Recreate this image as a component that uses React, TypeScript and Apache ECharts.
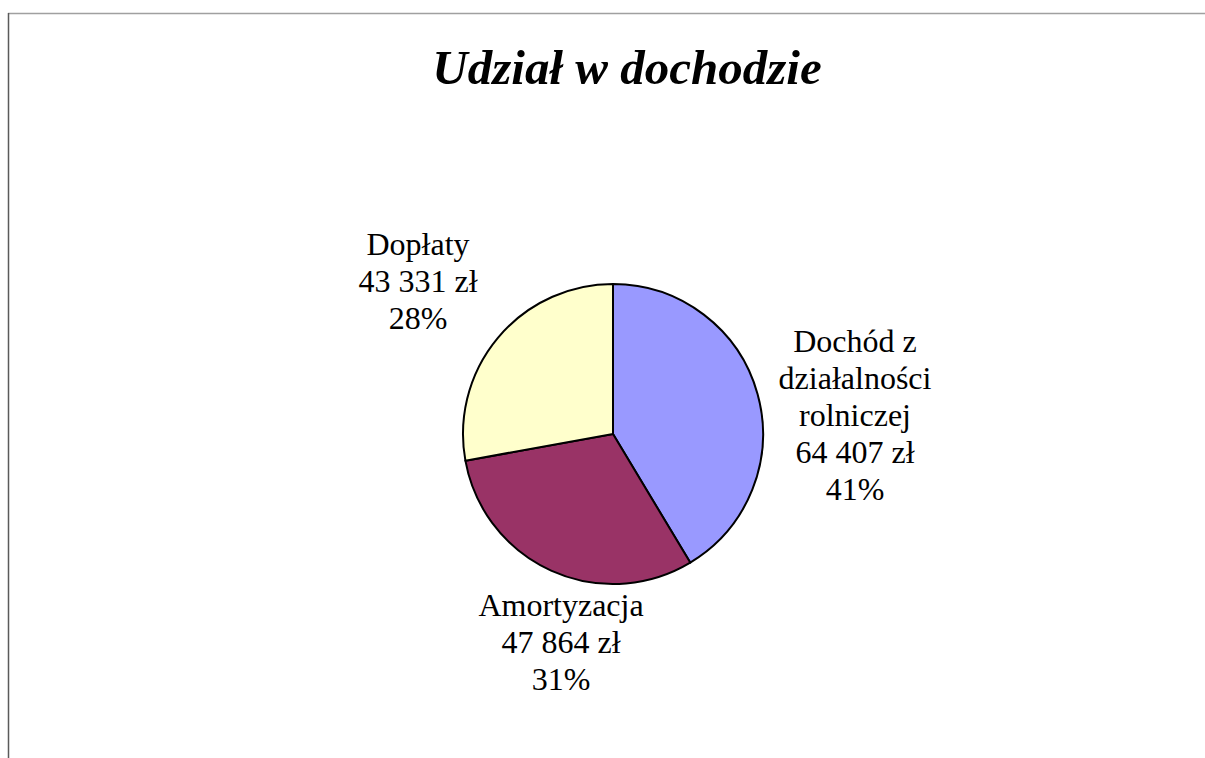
import React, { useEffect, useRef } from "react";
import * as echarts from "echarts";

const titleText = "Udział w dochodzie";
const categories = ["Dochód z\ndziałalności\nrolniczej", "Amortyzacja", "Dopłaty"];
const values = [64407, 47864, 43331];
const sliceColors = ["#9999FF", "#993366", "#FFFFCC"];

const labelCenters: [number, number][] = [
  [855, 415],
  [561, 642],
  [418, 281],
];

function fmtZl(v: number): string {
  const s = String(v);
  return s.replace(/\B(?=(\d{3})+(?!\d))/g, " ") + " zł";
}

export default function App() {
  const ref = useRef<HTMLDivElement>(null);
  useEffect(() => {
    if (!ref.current) return;
    const chart = echarts.init(ref.current, undefined, { renderer: "svg" });
    const total = values.reduce((a, b) => a + b, 0);
    chart.setOption({
      animation: false,
      backgroundColor: "#ffffff",
      title: {
        text: titleText,
        left: 622,
        top: 38,
        textAlign: "center",
        textStyle: {
          fontFamily: "'Liberation Serif', 'Times New Roman', serif",
          fontSize: 49,
          fontWeight: "bold",
          fontStyle: "italic",
          color: "#000",
        },
      },
      graphic: [
        { type: "line", shape: { x1: 8, y1: 13.5, x2: 1205, y2: 13.5 }, style: { stroke: "#a0a0a0", lineWidth: 1.5 } },
        { type: "line", shape: { x1: 8.5, y1: 13, x2: 8.5, y2: 758 }, style: { stroke: "#5a5a5a", lineWidth: 1.5 } },
      ],
      series: [
        {
          type: "pie",
          center: [613, 434],
          radius: 150,
          startAngle: 90,
          clockwise: true,
          data: categories.map((c, i) => ({
            name: c,
            value: values[i],
            itemStyle: { color: sliceColors[i] },
          })),
          itemStyle: { borderColor: "#000", borderWidth: 2 },
          label: {
            show: true,
            position: "outside",
            formatter: (p: any) =>
              `${p.name}\n${fmtZl(p.value)}\n${Math.round((p.value / total) * 100)}%`,
            fontFamily: "'Liberation Serif', 'Times New Roman', serif",
            fontSize: 32,
            lineHeight: 37,
            color: "#000",
            align: "center",
          },
          labelLine: { show: false },
          labelLayout: (params: any) => {
            const c = labelCenters[params.dataIndex];
            return {
              x: c[0],
              y: c[1],
              align: "center",
              verticalAlign: "middle",
            };
          },
          emphasis: { disabled: true },
        },
      ],
    });
    return () => chart.dispose();
  }, []);
  return (
    <div
      ref={ref}
      style={{ position: "fixed", left: 0, top: 0, width: 1205, height: 758 }}
    />
  );
}
